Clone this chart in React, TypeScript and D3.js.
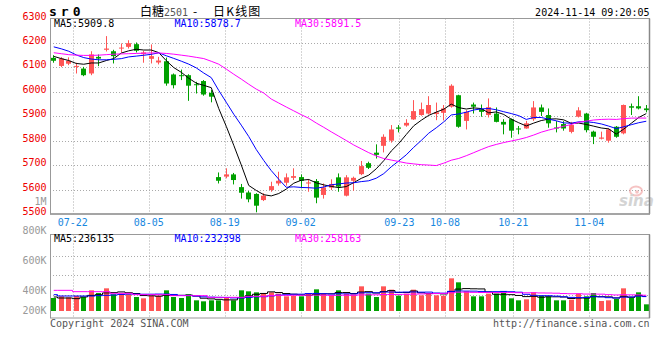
import React from "react";
import * as d3 from "d3";

const dates = [
  "07-17","07-18","07-19","07-22","07-23","07-24","07-25","07-26","07-29","07-30","07-31",
  "08-01","08-02","08-05","08-06","08-07","08-08","08-09","08-12","08-13","08-14","08-15","08-16",
  "08-19","08-20","08-21","08-22","08-23","08-26","08-27","08-28","08-29","08-30",
  "09-02","09-03","09-04","09-05","09-06","09-09","09-10","09-11","09-12","09-13",
  "09-18","09-19","09-20","09-23","09-24","09-25","09-26","09-27","09-30",
  "10-08","10-09","10-10","10-11","10-14","10-15","10-16","10-17","10-18",
  "10-21","10-22","10-23","10-24","10-25","10-28","10-29","10-30","10-31",
  "11-01","11-04","11-05","11-06","11-07","11-08","11-11","11-12","11-13","11-14"
];

const opens = [
  6139,6106,6115,6102,6095,6075,6143,6172,6166,6177,
  6184,6195,6154,6135,6120,6125,6071,6068,6068,6031,
  6044,5996,5651,5653,5662,5610,5588,5582,5557,5598,
  5625,5628,5648,5651,5625,5635,5578,5608,5650,5575,
  5636,5663,5708,5751,5779,5800,5854,5862,5887,5905,
  5911,5909,5914,5939,5986,5881,5948,5929,5905,5911,
  5877,5888,5850,5850,5888,5936,5905,5854,5868,5836,
  5898,5911,5837,5808,5800,5857,5830,5941,5941,5932
];
const highs = [
  6150,6142,6141,6119,6102,6166,6153,6228,6172,6198,
  6211,6202,6168,6194,6143,6140,6075,6091,6072,6041,
  6048,6007,5670,5687,5668,5623,5594,5585,5585,5632,
  5673,5666,5687,5662,5643,5643,5625,5642,5666,5659,
  5653,5717,5714,5785,5826,5864,5864,5888,5966,5956,
  5982,5956,5946,6031,5988,5925,5956,5948,5973,5936,
  5888,5891,5860,5881,5962,5948,5932,5880,5880,5877,
  5937,5914,5841,5837,5850,5860,5948,5952,5982,5946
];
const lows = [
  6119,6101,6109,6075,6064,6068,6105,6165,6116,6161,
  6177,6161,6119,6116,6112,6025,6014,6048,5963,5993,
  5984,5957,5625,5646,5621,5563,5548,5507,5553,5591,
  5616,5616,5639,5605,5591,5544,5563,5598,5591,5572,
  5595,5659,5684,5727,5752,5792,5834,5857,5885,5902,
  5907,5884,5883,5935,5853,5846,5911,5898,5895,5875,
  5826,5812,5826,5849,5881,5901,5853,5834,5841,5830,
  5895,5834,5786,5805,5792,5812,5826,5905,5928,5916
];
const closes = [
  6127,6136,6127,6106,6068,6153,6136,6177,6146,6181,
  6199,6168,6161,6146,6128,6034,6027,6064,6025,6027,
  5989,5980,5636,5662,5639,5587,5560,5534,5575,5614,
  5636,5650,5655,5636,5629,5567,5609,5623,5612,5650,
  5648,5696,5689,5742,5816,5846,5849,5873,5921,5929,
  5946,5916,5932,6025,5857,5918,5939,5918,5937,5877,
  5866,5841,5846,5871,5936,5918,5871,5851,5850,5864,
  5924,5843,5816,5813,5846,5816,5946,5935,5932,5925
];
const volumes = [
  210600,237600,221400,243000,226800,334800,291600,367200,270000,280800,
  270000,226800,205200,248400,248400,334800,226800,210600,270000,172800,
  156600,172800,172800,226800,172800,334800,318600,302400,291600,302400,
  280800,237600,248400,237600,275400,351000,275400,253800,334800,280800,
  270000,399600,280800,226800,399600,345600,248400,280800,345600,253800,
  280800,253800,248400,529200,464400,318600,237600,237600,280800,280800,
  318600,205200,172800,189000,302400,248400,237600,172800,172800,183600,
  280800,237600,291600,162000,172800,194400,367200,216000,302400,108000
];

const ma5Head = [6145, 6136, 6128, 6116];
const ma10Head = [6184, 6176, 6166, 6151, 6140, 6134, 6131, 6131, 6133];
const ma30Head = [
  6160, 6156, 6152, 6150, 6149, 6149, 6150, 6152, 6154, 6155,
  6156, 6157, 6158, 6159, 6159, 6157, 6154, 6150, 6146, 6141,
  6136, 6125, 6113, 6093, 6072, 6052, 6031, 6011, 5995
];
const vma5Head = [226800, 210600, 210600, 199800];
const vma10Head = [264600, 243000, 243000, 243000, 243000, 243000, 248400, 253800, 259200];
const vma30Head = [
  334800, 334800, 334800, 313200, 313200, 313200, 313200, 313200, 286200, 286200,
  286200, 264600, 264600, 264600, 264600, 264600, 248400, 248400, 248400, 248400,
  248400, 221400, 221400, 221400, 221400, 221400, 237600, 237600, 237600
];

const priceTicks = [6300, 6200, 6100, 6000, 5900, 5800, 5700, 5600, 5500];
const tickDates = ["07-22", "08-05", "08-19", "09-02", "09-23", "10-08", "10-21", "11-04"];
const volLabelValues = [800000, 600000, 400000, 200000];
const volLabelTexts = ["800K", "600K", "400K", "200K"];
const volGridValues = [600000, 400000, 200000];
const priceMaLabels = ["MA5:5909.8", "MA10:5878.7", "MA30:5891.5"];
const volMaLabels = ["MA5:236135", "MA10:232398", "MA30:258163"];
const maColors = ["#000000", "#0000ff", "#ff00ff"];

const RED = "#ff5555";
const GREEN = "#00a000";
const MONO = "'DejaVu Sans Mono', monospace";
const CJK = "'Noto Sans CJK SC', sans-serif";

function movingAvg(values: number[], n: number, head: number[]): number[] {
  return values.map((_, i) =>
    i < n - 1 ? head[i] : (d3.mean(values.slice(i - n + 1, i + 1)) as number)
  );
}

export default function App() {
  const left = 50, right = 650;
  const mainTop = 18.5, mainBottom = 214;
  const volTop = 234.5, volBottom = 318, volBase = 311;

  const x = d3.scaleBand<string>().domain(dates).range([left, right]);
  const cx = (i: number) => (x(dates[i]) as number) + x.bandwidth() / 2;
  const col = (i: number) => Math.floor(cx(i));
  const gx = d3.scalePoint<string>().domain(dates).range([left, right]);
  const y = d3.scaleLinear().domain([5500, 6300]).range([mainBottom, mainTop]);
  const vy = d3.scaleLinear().domain([0, 500000]).range([volBase, volBase - 500000 / 16200]);
  const vGrid = d3.scaleLinear().domain([0, 800000]).range([314.2, 236.6]);
  const vLab = d3.scaleLinear().domain([200000, 400000, 800000]).range([314.3, 294.3, 233.8]);

  const idx = d3.range(dates.length);
  const maSeries = [
    movingAvg(closes, 5, ma5Head),
    movingAvg(closes, 10, ma10Head),
    movingAvg(closes, 30, ma30Head),
  ];
  const vmaSeries = [
    movingAvg(volumes, 5, vma5Head),
    movingAvg(volumes, 10, vma10Head),
    movingAvg(volumes, 30, vma30Head),
  ];
  const line = d3.line<number>().x((_, i) => cx(i)).y((v) => y(v));
  const vline = d3.line<number>().x((_, i) => cx(i)).y((v) => vy(v)).curve(d3.curveStep);

  const up = (i: number) => closes[i] >= opens[i];

  return (
    <svg width={660} height={360} style={{ position: "absolute", left: 0, top: 0, background: "#fff" }}>
      <rect x={0} y={0} width={660} height={360} fill="#fff" />
      {/* header */}
      <text x={49} y={16} fontFamily={MONO} fontWeight="bold" fontSize={13} letterSpacing={4} fill="#000">sr0</text>
      <text y={15.5} fontFamily={CJK} fontSize={12} fill="#000">
        <tspan x={140}>白糖</tspan>
        <tspan fontFamily={MONO} fontSize={10} fill="#555">2501</tspan>
        <tspan x={193}>-</tspan>
        <tspan x={213} letterSpacing={1.2}>日K线图</tspan>
      </text>
      <text x={649.5} y={15.6} textAnchor="end" fontFamily={MONO} fontSize={10} fill="#000">2024-11-14 09:20:05</text>

      {/* main grid */}
      {priceTicks.slice(1, -1).map((t) => (
        <line key={t} x1={left} x2={right} y1={Math.round(y(t)) + 0.5} y2={Math.round(y(t)) + 0.5}
          stroke="#aaa" strokeDasharray="1,2" />
      ))}
      {tickDates.map((d) => (
        <line key={d} x1={Math.round(gx(d) as number) + 0.5} x2={Math.round(gx(d) as number) + 0.5}
          y1={mainTop} y2={mainBottom} stroke="#aaa" strokeDasharray="1,2" />
      ))}
      {/* price labels */}
      {priceTicks.map((t) => (
        <text key={t} x={46.5} y={y(t) + 1} textAnchor="end" fontFamily={MONO} fontSize={10} fill="#ee0000">{t}</text>
      ))}
      <text x={46.5} y={204.5} textAnchor="end" fontFamily={MONO} fontSize={10} fill="#999">1M</text>

      {/* watermark */}
      <g opacity={0.5}>
        <ellipse cx={636} cy={191} rx={6} ry={4.5} fill="none" stroke="#e88" strokeWidth={2} />
        <circle cx={637} cy={192} r={1.8} fill="#e88" />
        <text x={619} y={206} fontFamily="'DejaVu Sans', sans-serif" fontStyle="italic" fontWeight="bold" fontSize={15} fill="#aaa">sina</text>
      </g>

      {/* candles */}
      {idx.map((i) => {
        const c = up(i) ? RED : GREEN;
        const top = y(Math.max(opens[i], closes[i]));
        const bot = y(Math.min(opens[i], closes[i]));
        return (
          <g key={i}>
            <line x1={col(i) + 0.5} x2={col(i) + 0.5} y1={y(highs[i])} y2={y(lows[i])} stroke={c} />
            <rect x={col(i) - 2} y={top} width={5} height={Math.max(1, bot - top)} fill={c} />
          </g>
        );
      })}
      {/* MA lines */}
      {maSeries.map((s, k) => (
        <path key={k} d={line(s) as string} fill="none" stroke={maColors[k]} strokeWidth={1} />
      ))}
      {/* frame */}
      <rect x={left + 0.5} y={mainTop} width={599} height={mainBottom - mainTop} fill="none" stroke="#999" />
      <line x1={649.5} x2={649.5} y1={mainTop} y2={mainBottom} stroke="#888" strokeWidth={1.5} />
      <line x1={left} x2={650} y1={mainBottom} y2={mainBottom} stroke="#999" strokeWidth={1.5} />
      {priceMaLabels.map((t, k) => (
        <text key={t} x={54 + k * 120.5} y={27.3} fontFamily={MONO} fontSize={10} fill={maColors[k]}>{t}</text>
      ))}

      {/* x labels */}
      {tickDates.map((d) => (
        <text key={d} x={gx(d) as number} y={225.6} textAnchor="middle" fontFamily={MONO} fontSize={10} fill="#1888e0">{d}</text>
      ))}

      {/* volume panel */}
      {volGridValues.map((v) => (
        <line key={v} x1={left} x2={right} y1={Math.round(vGrid(v)) + 0.5} y2={Math.round(vGrid(v)) + 0.5}
          stroke="#aaa" strokeDasharray="1,2" />
      ))}
      {tickDates.map((d) => (
        <line key={d} x1={Math.round(gx(d) as number) + 0.5} x2={Math.round(gx(d) as number) + 0.5}
          y1={volTop} y2={volBottom} stroke="#aaa" strokeDasharray="1,2" />
      ))}
      {volLabelValues.map((v, k) => (
        <text key={v} x={46.5} y={vLab(v)} textAnchor="end" fontFamily={MONO} fontSize={10} fill="#999">{volLabelTexts[k]}</text>
      ))}
      {idx.map((i) => (
        <rect key={i} x={col(i) - 2} y={vy(volumes[i])} width={5} height={volBase - vy(volumes[i])}
          fill={up(i) ? RED : GREEN} />
      ))}
      {vmaSeries.map((s, k) => (
        <path key={k} d={vline(s) as string} fill="none" stroke={maColors[k]} strokeWidth={1} />
      ))}
      <rect x={left + 0.5} y={volTop} width={599} height={volBottom - volTop} fill="none" stroke="#999" />
      <line x1={649.5} x2={649.5} y1={volTop} y2={volBottom} stroke="#888" strokeWidth={1.5} />
      {volMaLabels.map((t, k) => (
        <text key={t} x={54 + k * 120.5} y={242.3} fontFamily={MONO} fontSize={10} fill={maColors[k]}>{t}</text>
      ))}

      {/* footer */}
      <text x={50} y={327} fontFamily={MONO} fontSize={10} fill="#555">Copyright 2024 SINA.COM</text>
      <text x={649.5} y={327} textAnchor="end" fontFamily={MONO} fontSize={10} fill="#555">http://finance.sina.com.cn</text>
    </svg>
  );
}
